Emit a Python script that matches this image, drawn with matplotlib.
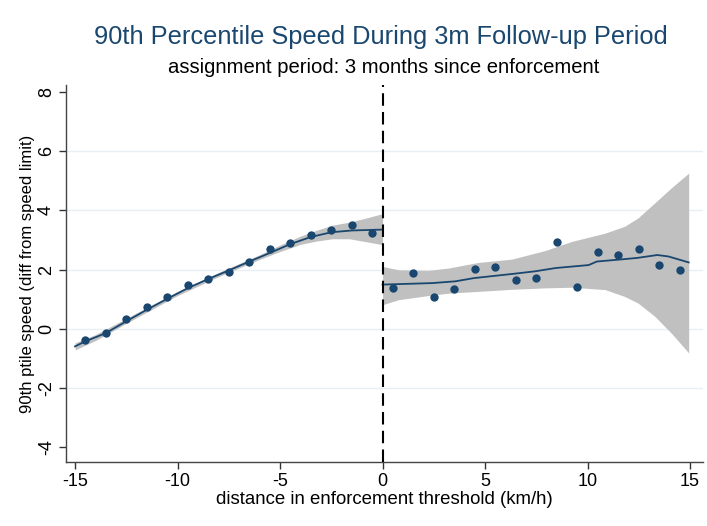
import matplotlib
matplotlib.use("Agg")
import matplotlib.pyplot as plt
import numpy as np

plt.rcParams['font.family'] = ['Liberation Sans', 'DejaVu Sans']

# ---- data ----
pts_left_x = [-14.5, -13.5, -12.5, -11.5, -10.5, -9.5, -8.5, -7.5, -6.5, -5.5, -4.5, -3.5, -2.5, -1.5, -0.5]
pts_left_y = [-0.40, -0.15, 0.34, 0.72, 1.08, 1.48, 1.69, 1.93, 2.24, 2.71, 2.88, 3.18, 3.34, 3.51, 3.22]
pts_right_x = [0.5, 1.5, 2.5, 3.5, 4.5, 5.5, 6.5, 7.5, 8.5, 9.5, 10.5, 11.5, 12.5, 13.5, 14.5]
pts_right_y = [1.37, 1.88, 1.07, 1.35, 2.02, 2.10, 1.63, 1.72, 2.94, 1.41, 2.59, 2.49, 2.68, 2.16, 1.98]

fit_left_x = [-15, -14.5, -13.5, -12.5, -11.5, -10.5, -9.5, -8.5, -7.5, -6.5, -5.5, -4.5, -3.5, -2.5, -1.5, -0.5, 0]
fit_left_y = [-0.60, -0.43, -0.15, 0.25, 0.64, 1.01, 1.37, 1.68, 1.97, 2.27, 2.56, 2.86, 3.10, 3.26, 3.32, 3.34, 3.35]

band_left_x = [-15, -14, -12, -10, -8, -6, -5, -4, -3.25, -2.44, -1.63, -0.81, 0]
band_left_lo = [-0.72, -0.40, 0.37, 1.12, 1.76, 2.34, 2.61, 2.85, 2.96, 3.04, 3.04, 2.94, 2.84]
band_left_hi = [-0.48, -0.20, 0.53, 1.26, 1.90, 2.50, 2.83, 3.13, 3.32, 3.50, 3.60, 3.74, 3.89]

fit_right_x = [0, 2.41, 3.55, 4.46, 6.46, 7.45, 8.44, 10.05, 10.45, 11.45, 12.4, 13.4, 13.95, 14.93]
fit_right_y = [1.49, 1.54, 1.60, 1.71, 1.86, 1.94, 2.05, 2.15, 2.27, 2.33, 2.39, 2.49, 2.44, 2.24]

band_right_x = [0, 0.79, 2.24, 3.22, 4.68, 6.3, 7.97, 9.23, 10.85, 11.8, 12.45, 13.27, 14.08, 14.93]
band_right_lo = [0.81, 0.98, 1.12, 1.20, 1.26, 1.33, 1.38, 1.40, 1.32, 1.09, 0.87, 0.42, -0.15, -0.82]
band_right_hi = [2.10, 1.99, 1.97, 2.05, 2.24, 2.35, 2.65, 2.95, 3.23, 3.46, 3.74, 4.25, 4.76, 5.26]

x_ticks = [-15, -10, -5, 0, 5, 10, 15]
y_ticks = [-4, -2, 0, 2, 4, 6, 8]
grid_y = [-2, 0, 2, 4, 6]

navy = '#1A476F'

fig = plt.figure(figsize=(7.07, 5.26), dpi=100)
ax = fig.add_axes([0.0934, 0.1217, 0.901, 0.7167])

for g in grid_y:
    ax.axhline(g, color='#E8EFF2', lw=1.0, zorder=0)

ax.fill_between(band_left_x, band_left_lo, band_left_hi, color='#C0C0C0', lw=0, zorder=1)
ax.fill_between(band_right_x, band_right_lo, band_right_hi, color='#C0C0C0', lw=0, zorder=1)
ax.plot(fit_left_x, fit_left_y, color=navy, lw=1.3, zorder=2)
ax.plot(fit_right_x, fit_right_y, color=navy, lw=1.3, zorder=2)
ax.plot(pts_left_x, pts_left_y, 'o', color=navy, ms=6, mec='none', zorder=3)
ax.plot(pts_right_x, pts_right_y, 'o', color=navy, ms=6, mec='none', zorder=3)
ax.axvline(0, color='black', lw=1.5, dashes=(6, 3), zorder=4)

ax.set_xlim(-15.44, 15.63)
ax.set_ylim(-4.51, 8.24)
ax.set_xticks(x_ticks)
ax.set_yticks(y_ticks)
ax.set_xticklabels([str(v) for v in x_ticks], fontsize=13)
ax.set_yticklabels([str(v) for v in y_ticks], fontsize=13, rotation=90, va='center')
ax.tick_params(direction='out', length=5, width=1, color='#333333', pad=3)
for s in ['top', 'right']:
    ax.spines[s].set_visible(False)
for s in ['left', 'bottom']:
    ax.spines[s].set_color('#444444')
    ax.spines[s].set_linewidth(1.0)

ax.set_xlabel('distance in enforcement threshold (km/h)', fontsize=13.4, labelpad=1)
ax.set_ylabel('90th ptile speed (diff from speed limit)', fontsize=12, labelpad=2)

fig.text(0.539, 0.929, '90th Percentile Speed During 3m Follow-up Period', ha='center', va='center',
         fontsize=18.3, color=navy)
fig.text(0.542, 0.872, 'assignment period: 3 months since enforcement', ha='center', va='center',
         fontsize=14.6, color='black')

fig.savefig('out.png', dpi=100)
